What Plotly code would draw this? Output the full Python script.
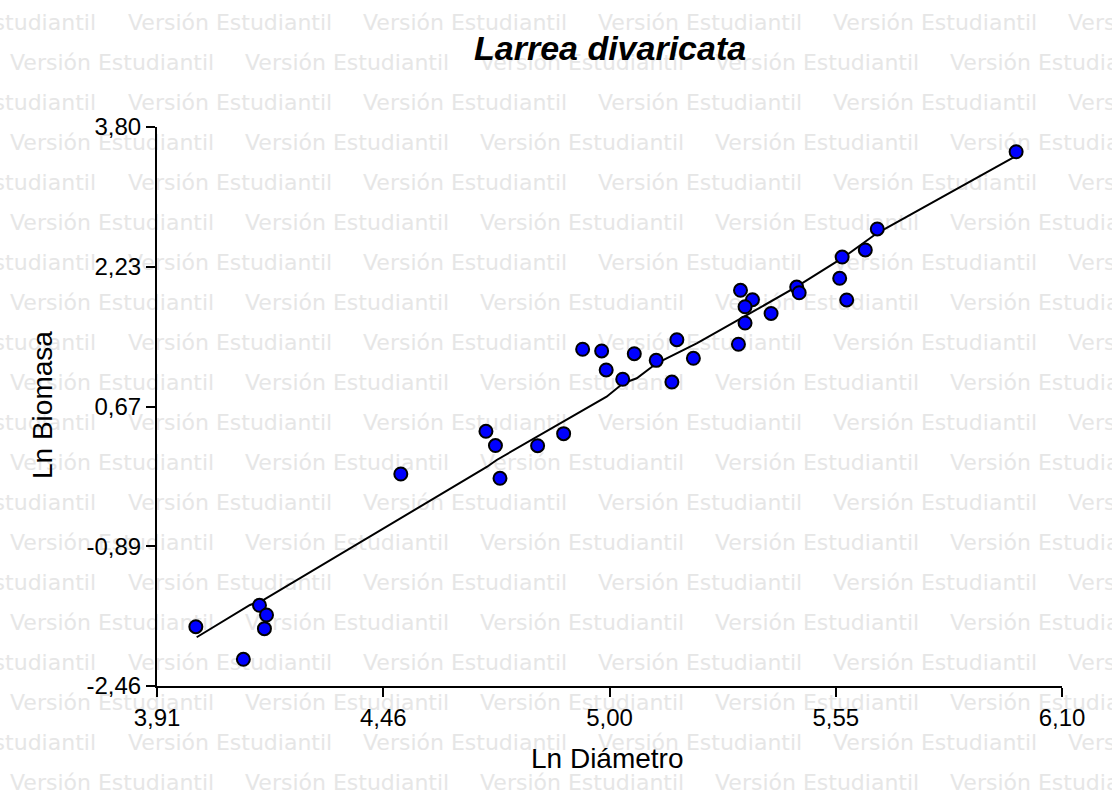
import plotly.graph_objects as go

# Ln of stem diameter and ln of biomass for each shrub
ln_diametro = [4.004, 4.119, 4.158, 4.175, 4.170, 4.500, 4.706, 4.729, 4.740, 4.831,
               4.894, 4.940, 4.986, 4.997, 5.037, 5.065, 5.118, 5.156, 5.168, 5.208,
               5.317, 5.322, 5.351, 5.333, 5.333, 5.396, 5.458, 5.464, 5.562, 5.568,
               5.579, 5.624, 5.653, 5.989]
ln_biomasa = [-1.796, -2.161, -1.556, -1.665, -1.818, -0.086, 0.392, 0.233, -0.134, 0.231,
              0.366, 1.311, 1.292, 1.079, 0.975, 1.261, 1.187, 0.944, 1.418, 1.210,
              1.367, 1.971, 1.866, 1.787, 1.605, 1.712, 2.008, 1.944, 2.106, 2.344,
              1.863, 2.423, 2.658, 3.523]

# Fitted curve
ajuste_x = [4.006, 4.127, 4.135, 4.167, 4.708, 4.732, 4.941, 4.998, 5.038, 5.071,
            5.119, 5.168, 5.216, 5.321, 5.393, 5.458, 5.571, 5.652, 5.986]
ajuste_y = [-1.914, -1.572, -1.553, -1.497, -0.007, 0.071, 0.631, 0.780, 0.930, 0.986,
            1.154, 1.266, 1.378, 1.650, 1.844, 2.012, 2.339, 2.610, 3.467]

x_ticks = [3.91, 4.4575, 5.005, 5.5525, 6.10]
x_ticktext = ["3,91", "4,46", "5,00", "5,55", "6,10"]
y_ticks = [-2.46, -0.895, 0.67, 2.235, 3.80]
y_ticktext = ["-2,46", "-0,89", "0,67", "2,23", "3,80"]

W, H = 1112, 794
# plot area in pixels
PL, PR, PT, PB = 157, 1062, 127, 686

# Tiled "Versión Estudiantil" background text, laid out in page pixels
WM_TEXT = "Versión Estudiantil"
WM_WIDTH = 203
wm_x, wm_y, wm_pos = [], [], []
for k in range(20):
    row_y = 24 + 40 * k
    start = 10 if k % 2 == 1 else -107
    for j in range(6):
        sx = start + 235 * j
        if sx >= W:
            continue
        if sx < 0:
            wm_x.append(sx + WM_WIDTH)
            wm_pos.append("middle left")
        else:
            wm_x.append(sx)
            wm_pos.append("middle right")
        wm_y.append(row_y)

fig = go.Figure()
fig.add_trace(go.Scatter(
    x=wm_x, y=wm_y, mode="text", text=[WM_TEXT] * len(wm_x),
    textposition=wm_pos, hoverinfo="skip", xaxis="x", yaxis="y",
    textfont=dict(family="DejaVu Sans", size=22, color="#e6e6e6"),
    showlegend=False,
))
fig.add_trace(go.Scatter(
    x=ajuste_x, y=ajuste_y, mode="lines", line=dict(color="black", width=2),
    xaxis="x2", yaxis="y2", showlegend=False,
))
fig.add_trace(go.Scatter(
    x=ln_diametro, y=ln_biomasa, mode="markers", xaxis="x2", yaxis="y2",
    marker=dict(color="#0000ff", size=13, line=dict(color="black", width=2)),
    showlegend=False,
))

axis_font = dict(family="Liberation Sans, Arial", size=24, color="black")
common = dict(showline=True, linecolor="black", linewidth=2, ticks="outside",
              ticklen=9, tickwidth=2, tickcolor="black", showgrid=False,
              zeroline=False, tickfont=axis_font, automargin=False)

fig.update_layout(
    width=W, height=H,
    margin=dict(l=0, r=0, t=0, b=0, pad=0, autoexpand=False),
    paper_bgcolor="white", plot_bgcolor="rgba(0,0,0,0)", showlegend=False,
    xaxis=dict(domain=[0, 1], range=[0, W], visible=False, fixedrange=True,
               automargin=False),
    yaxis=dict(domain=[0, 1], range=[H, 0], visible=False, fixedrange=True,
               automargin=False),
    xaxis2=dict(domain=[PL / W, PR / W], range=[3.91, 6.10], anchor="y2",
                tickvals=x_ticks, ticktext=x_ticktext, **common),
    yaxis2=dict(domain=[1 - PB / H, 1 - PT / H], range=[-2.46, 3.80], anchor="x2",
                tickvals=y_ticks, ticktext=y_ticktext, **common),
)

fig.add_annotation(text="Ln Diámetro", xref="paper", yref="paper",
                   x=607 / W, y=1 - 758 / H, showarrow=False,
                   xanchor="center", yanchor="middle",
                   font=dict(family="Liberation Sans, Arial", size=28, color="black"))
fig.add_annotation(text="Ln Biomasa", xref="paper", yref="paper",
                   x=42 / W, y=1 - 405 / H, showarrow=False,
                   textangle=-90, xanchor="center", yanchor="middle",
                   font=dict(family="Liberation Sans, Arial", size=28, color="black"))
fig.add_annotation(text="<b><i>Larrea divaricata</i></b>", xref="paper", yref="paper",
                   x=610 / W, y=1 - 48 / H, showarrow=False,
                   xanchor="center", yanchor="middle",
                   font=dict(family="Liberation Sans, Arial", size=34, color="black"))

fig.write_html("out.html")
